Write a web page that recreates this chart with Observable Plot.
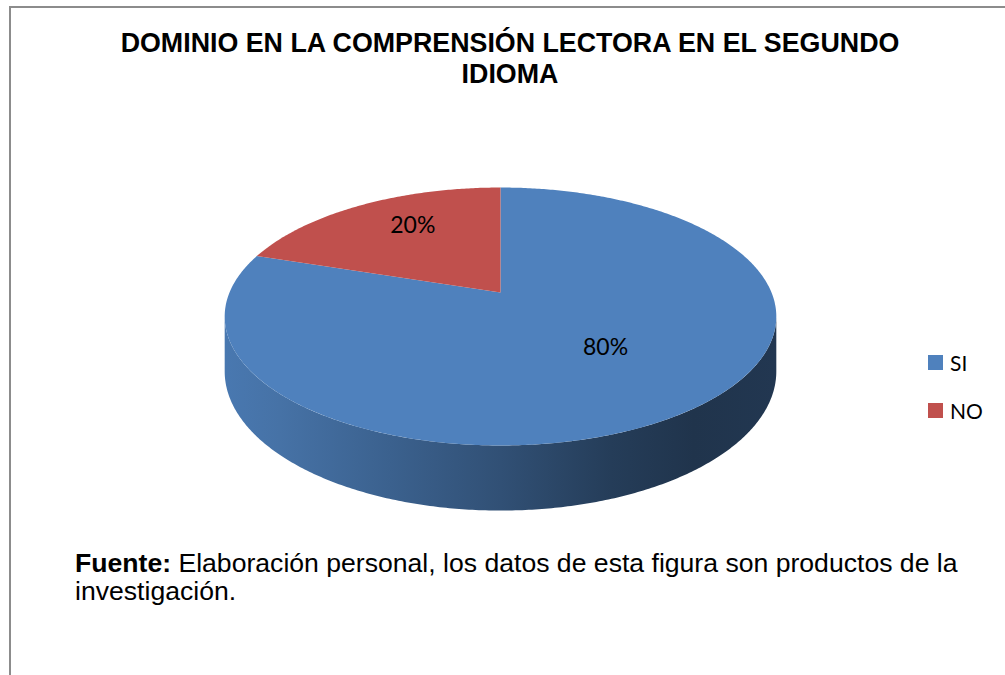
<!DOCTYPE html>
<html>
<head>
<meta charset="utf-8">
<script src="https://cdn.jsdelivr.net/npm/d3@7"></script>
<script src="https://cdn.jsdelivr.net/npm/@observablehq/plot@0.6"></script>
<style>
  html, body { margin: 0; padding: 0; background: #fff; width: 1005px; height: 675px; overflow: hidden; }
  #frame { position: absolute; left: 9px; top: 6px; width: 1200px; height: 900px; border: 2px solid #8c8c8c; box-sizing: border-box; }
  #title { position: absolute; left: 0; top: 28px; width: 1020px; text-align: center;
           font: bold 26.8px "Liberation Sans", Arial, sans-serif; line-height: 31px; color: #000; }
  #chart { position: absolute; left: 0; top: 100px; }
  #legend { position: absolute; left: 928px; top: 350px; font: 21px Lato, "Open Sans", sans-serif; color: #000; }
  .item { display: flex; align-items: center; height: 24px; margin-bottom: 24px; }
  .sw { width: 15px; height: 15px; margin-right: 7px; }
  #footer { position: absolute; left: 75px; top: 549px; font: 26.6px "Liberation Sans", Arial, sans-serif; line-height: 28px; color: #000; }
</style>
</head>
<body>
<div id="frame"></div>
<div id="title">DOMINIO EN LA COMPRENSIÓN LECTORA EN EL SEGUNDO<br>IDIOMA</div>
<div id="chart"></div>
<div id="legend"></div>
<div id="footer"><b>Fuente:</b> Elaboración personal, los datos de esta figura son productos de la<br>investigación.</div>
<script>
// ---- data ----
const categories = ["SI", "NO"];
const values = [80, 20];
const colors = ["#4f81bd", "#c0504d"];

// ---- 3D pie geometry (perspective projection of a tilted disc) ----
const CX = 500, K = 271, A = 70.2, B = 292, C = -0.186, H = 53;
function proj(theta, rho, depth = 0) {
  const u = rho * Math.sin(theta), v = -rho * Math.cos(theta);
  const w = 1 + C * v;
  return {x: CX + K * u / w, y: (A * v + B + depth) / w};
}

const table = categories.map((cat, i) => ({cat, value: values[i], i}));
const total = d3.sum(values);
const arcs = d3.pie().sort(null).value(d => d.value)(table);

// top faces
const topPts = [];
for (const a of arcs) {
  topPts.push({cat: a.data.cat, ...proj(0, 0)});
  const n = Math.max(2, Math.ceil((a.endAngle - a.startAngle) / 0.01));
  for (let k = 0; k <= n; k++) {
    const t = a.startAngle + (a.endAngle - a.startAngle) * k / n;
    topPts.push({cat: a.data.cat, ...proj(t, 1)});
  }
}

// visible side (front) between silhouette angles
const thR = Math.acos(C), thL = 2 * Math.PI - thR;
const sideMarks = [];
for (const a of arcs) {
  const s = Math.max(a.startAngle, thR), e = Math.min(a.endAngle, thL);
  if (e <= s) continue;
  const pts = [];
  const n = Math.ceil((e - s) / 0.01);
  for (let k = 0; k <= n; k++) pts.push(proj(s + (e - s) * k / n, 1));
  for (let k = n; k >= 0; k--) pts.push(proj(s + (e - s) * k / n, 1, H));
  sideMarks.push(Plot.line(pts, {x: "x", y: "y", fill: `url(#side-${a.data.i})`, stroke: "none", curve: "linear-closed"}));
}

// labels
const labelData = arcs.map(a => {
  const mid = (a.startAngle + a.endAngle) / 2;
  return {...proj(mid, 0.6), text: d3.format(".0%")(a.data.value / total)};
});

const chart = Plot.plot({
  width: 1005, height: 440, margin: 0,
  x: {domain: [0, 1005], range: [0, 1005], axis: null},
  y: {domain: [100, 540], range: [0, 440], axis: null},
  color: {domain: categories, range: colors},
  marks: [
    ...sideMarks,
    Plot.line(topPts, {x: "x", y: "y", z: "cat", fill: "cat", stroke: "none", curve: "linear-closed"}),
    Plot.text(labelData, {x: "x", y: "y", text: "text", dy: -11, fontSize: 23, fontFamily: "Lato, 'Open Sans', sans-serif", fill: "#000"})
  ]
});

// gradients for the cylinder side
const ns = "http://www.w3.org/2000/svg";
const defs = document.createElementNS(ns, "defs");
const shade = [[0, 0.07], [0.1, 0.12], [0.3, 0.25], [0.5, 0.38], [0.7, 0.53], [0.85, 0.6], [1, 0.57]];
colors.forEach((col, i) => {
  const g = document.createElementNS(ns, "linearGradient");
  g.setAttribute("id", `side-${i}`);
  g.setAttribute("x1", "0"); g.setAttribute("x2", "1"); g.setAttribute("y1", "0"); g.setAttribute("y2", "0");
  for (const [o, f] of shade) {
    const st = document.createElementNS(ns, "stop");
    st.setAttribute("offset", o);
    st.setAttribute("stop-color", d3.interpolateRgb(col, "#000")(f));
    g.appendChild(st);
  }
  defs.appendChild(g);
});
chart.insertBefore(defs, chart.firstChild);
document.getElementById("chart").appendChild(chart);

// legend
const legend = document.getElementById("legend");
categories.forEach((c, i) => {
  const it = document.createElement("div");
  it.className = "item";
  it.innerHTML = `<div class="sw" style="background:${colors[i]}"></div><span>${c}</span>`;
  legend.appendChild(it);
});
</script>
</body>
</html>
